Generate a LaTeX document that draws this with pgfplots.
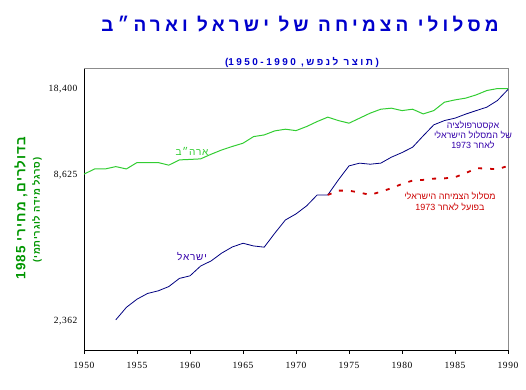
\documentclass[border=0pt]{standalone}
\usepackage{pgfplots}
\pgfplotsset{compat=1.18}
\usepackage{fontspec}
\setmainfont{Liberation Sans}
\newfontfamily\heb[Script=Hebrew]{Liberation Sans}
\newfontfamily\hebsp[Script=Hebrew,LetterSpace=8]{Liberation Sans}
\newfontfamily\titlefont[Script=Hebrew,LetterSpace=22]{Liberation Sans}
\newfontfamily\subfont[Script=Hebrew,LetterSpace=25]{Liberation Sans}
\newfontfamily\tickfont[LetterSpace=6]{Liberation Serif}
\TeXXeTstate=1
\definecolor{titleblue}{RGB}{0,0,204}
\definecolor{usgreen}{RGB}{50,205,50}
\definecolor{labgreen}{RGB}{0,150,0}
\definecolor{isrnavy}{RGB}{0,0,128}
\definecolor{annpurple}{RGB}{51,0,170}
\definecolor{actred}{RGB}{204,0,0}
\pgfplotstableread{
year val
1950 8690
1951 9100
1952 9100
1953 9290
1954 9100
1955 9630
1956 9630
1957 9630
1958 9410
1959 9860
1960 9900
1961 9950
1962 10370
1963 10770
1964 11110
1965 11430
1966 12120
1967 12300
1968 12750
1969 12940
1970 12780
1971 13250
1972 13850
1973 14400
1974 13970
1975 13650
1976 14270
1977 14920
1978 15450
1979 15590
1980 15260
1981 15450
1982 14820
1983 15260
1984 16440
1985 16780
1986 17040
1987 17540
1988 18230
1989 18550
1990 18550
}\usdata
\pgfplotstableread{
year val
1953 2390
1954 2670
1955 2870
1956 3020
1957 3090
1958 3210
1959 3450
1960 3530
1961 3850
1962 4030
1963 4320
1964 4560
1965 4710
1966 4600
1967 4550
1968 5150
1969 5790
1970 6110
1971 6560
1972 7230
1973 7230
1974 8260
1975 9350
1976 9580
1977 9490
1978 9580
1979 10100
1980 10520
1981 11030
1982 12200
1983 13450
1984 13970
1985 14270
1986 14790
1987 15260
1988 15730
1989 16680
1990 18400
}\isrdata
\pgfplotstableread{
year val
1973 7230
1974 7510
1975 7510
1976 7380
1977 7230
1978 7440
1979 7670
1980 7970
1981 8210
1982 8260
1983 8350
1984 8370
1985 8460
1986 8760
1987 9160
1988 9130
1989 9070
1990 9350
}\actdata
\begin{document}
\begin{tikzpicture}
\useasboundingbox (0bp,0bp) rectangle (526bp,390bp);
\begin{axis}[
  at={(84bp,40bp)}, anchor=south west,
  scale only axis, width=424bp, height=282bp,
  ymode=log, xmin=1950, xmax=1990, ymin=1830, ymax=22260,
  axis x line*=bottom, axis y line*=left,
  axis line style={black, line width=0.8pt},
  xtick={1950,1955,...,1990},
  ytick={2362,8625,18400},
  yticklabels={{2,362},{8,625},{18,400}},
  tick align=outside,
  major tick length=4bp,
  x tick style={black, line width=0.8pt},
  y tick style={draw=none},
  ticklabel style={font=\tickfont\fontsize{9.5}{11}\selectfont},
  xticklabel style={yshift=-5bp},
  yticklabel style={xshift=1bp},
  /pgf/number format/assume math mode=true,
  /pgf/number format/1000 sep={},
  clip=false,
]
\draw[gray!90, line width=0.8pt] (rel axis cs:0,1) -- (rel axis cs:1,1) -- (rel axis cs:1,0);
\addplot[usgreen, line width=1pt, no markers] table[x=year,y=val] {\usdata};
\addplot[isrnavy, line width=0.8pt, no markers] table[x=year,y=val] {\isrdata};
\addplot[actred, line width=1.8pt, no markers, dash pattern=on 4bp off 8bp] table[x=year,y=val] {\actdata};
\end{axis}
% titles
\node[text=titleblue, font=\titlefont\bfseries\fontsize{19}{21}\selectfont] at (300bp,366bp) {\beginR מסלולי הצמיחה של ישראל וארה״ב\endR};
\node[text=titleblue, font=\subfont\bfseries\fontsize{10}{12}\selectfont] at (302bp,328bp) {\beginR(תוצר לנפש, \beginL1950-1990\endL)\endR};
% y label
\node[rotate=90, text=labgreen, font=\hebsp\bfseries\fontsize{13.5}{15}\selectfont] at (21bp,182bp) {\beginR בדולרים, מחירי \beginL1985\endL\endR};
\node[rotate=90, text=labgreen, font=\hebsp\bfseries\fontsize{9.5}{11}\selectfont] at (37bp,180bp) {\beginR(סרגל מידה לוגריתמי)\endR};
% annotations
\node[text=usgreen, font=\hebsp\fontsize{10}{12}\selectfont] at (192bp,239bp) {\beginR ארה״ב\endR};
\node[text=annpurple, font=\hebsp\fontsize{10}{12}\selectfont] at (192bp,133bp) {\beginR ישראל\endR};
\node[text=annpurple, font=\heb\fontsize{9}{10}\selectfont, align=center] at (473bp,255bp) {\beginR אקסטרפולציה\endR\\\beginR של המסלול הישראלי\endR\\\beginR לאחר \beginL1973\endL\endR};
\node[text=actred, font=\heb\fontsize{9}{11}\selectfont, align=center] at (450bp,189bp) {\beginR מסלול הצמיחה הישראלי\endR\\\beginR בפועל לאחר \beginL1973\endL\endR};
\end{tikzpicture}
\end{document}
